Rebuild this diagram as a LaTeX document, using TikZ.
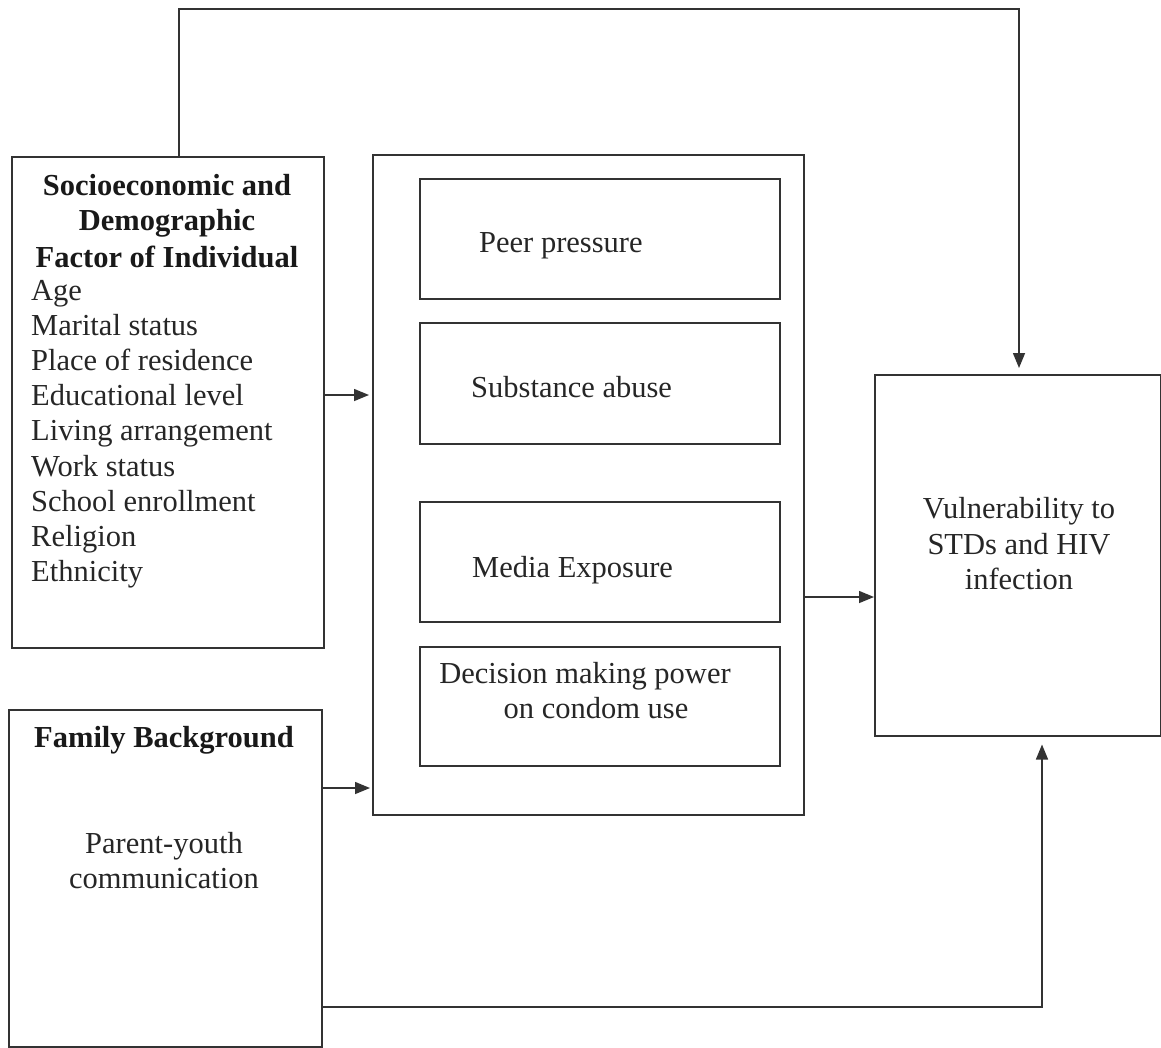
\documentclass[tikz,border=0pt]{standalone}
\usepackage{fontspec}
\setmainfont{Liberation Serif}
\usetikzlibrary{arrows.meta,calc}
\begin{document}
\begin{tikzpicture}[x=1pt,y=-1pt,
  box/.style={draw=black!80, line width=1.5pt, inner sep=0pt, anchor=north west},
  arr/.style={draw=black!80, line width=1.5pt, -{Triangle[length=15pt,width=12pt]}},
  txt/.style={inner sep=0pt, text=black!85, font=\fontsize{30.5}{35}\selectfont},
  hd/.style={inner sep=0pt, text=black!90, font=\fontsize{30.5}{35}\selectfont\bfseries}]
\useasboundingbox[fill=white] (0,0) rectangle (1161,1047);

% boxes
\node[box, minimum width=312pt, minimum height=491pt] (socio) at (11,156) {};
\node[box, minimum width=431pt, minimum height=660pt] (mid) at (372,154) {};
\node[box, minimum width=360pt, minimum height=120pt] (peer) at (419,178) {};
\node[box, minimum width=360pt, minimum height=121pt] (subst) at (419,322) {};
\node[box, minimum width=360pt, minimum height=120pt] (media) at (419,501) {};
\node[box, minimum width=360pt, minimum height=119pt] (decis) at (419,646) {};
\node[box, minimum width=313pt, minimum height=337pt] (family) at (8,709) {};
\node[box, minimum width=286pt, minimum height=361pt] (vuln) at (874,374) {};

% texts: socioeconomic box
\node[hd, anchor=base] (h1) at (167,195) {Socioeconomic and};
\node[hd, anchor=base] (h2) at (167,230) {Demographic};
\node[hd, anchor=base] (h3) at (167,267) {Factor of Individual};
\foreach \t [count=\k from 0] in {Age,Marital status,Place of residence,Educational level,Living arrangement,Work status,School enrollment,Religion,Ethnicity}
  \node[txt, anchor=base west] (li\k) at (31,{300+35.2*\k}) {\t};

% family box
\node[hd, anchor=base] (f1) at (164,747) {Family Background};
\node[txt, anchor=base] (f2) at (164,853) {Parent-youth};
\node[txt, anchor=base] (f3) at (164,888) {communication};

% inner boxes
\node[txt, anchor=base west] (tpeer) at (479,252) {Peer pressure};
\node[txt, anchor=base west] (tsubst) at (471,397) {Substance abuse};
\node[txt, anchor=base west] (tmedia) at (472,577) {Media Exposure};
\node[txt, anchor=base] (td1) at (585,683) {Decision making power};
\node[txt, anchor=base] (td2) at (596,718) {on condom use};

% outcome
\node[txt, anchor=base] (v1) at (1019,518) {Vulnerability to};
\node[txt, anchor=base] (v2) at (1019,554) {STDs and HIV};
\node[txt, anchor=base] (v3) at (1019,589) {infection};

% connectors
\coordinate (ya) at (0,395);
\coordinate (yb) at (0,788);
\coordinate (yc) at (0,597);
\coordinate (tl) at (179,9);
\coordinate (tr) at (1019,9);
\coordinate (bl) at (0,1007);
\coordinate (br) at (1042,1007);

\draw[arr, shorten >=3pt] (socio.east |- ya) -- (mid.west |- ya);
\draw[arr, shorten >=2pt] (family.east |- yb) -- (mid.west |- yb);
\draw[arr] (mid.east |- yc) -- (vuln.west |- yc);
\draw[arr, shorten >=6pt] (socio.north -| tl) -- (tl) -- (tr) -- (vuln.north -| tr);
\draw[arr, shorten >=8pt] (family.east |- bl) -- (br) -- (vuln.south -| br);
\end{tikzpicture}
\end{document}
